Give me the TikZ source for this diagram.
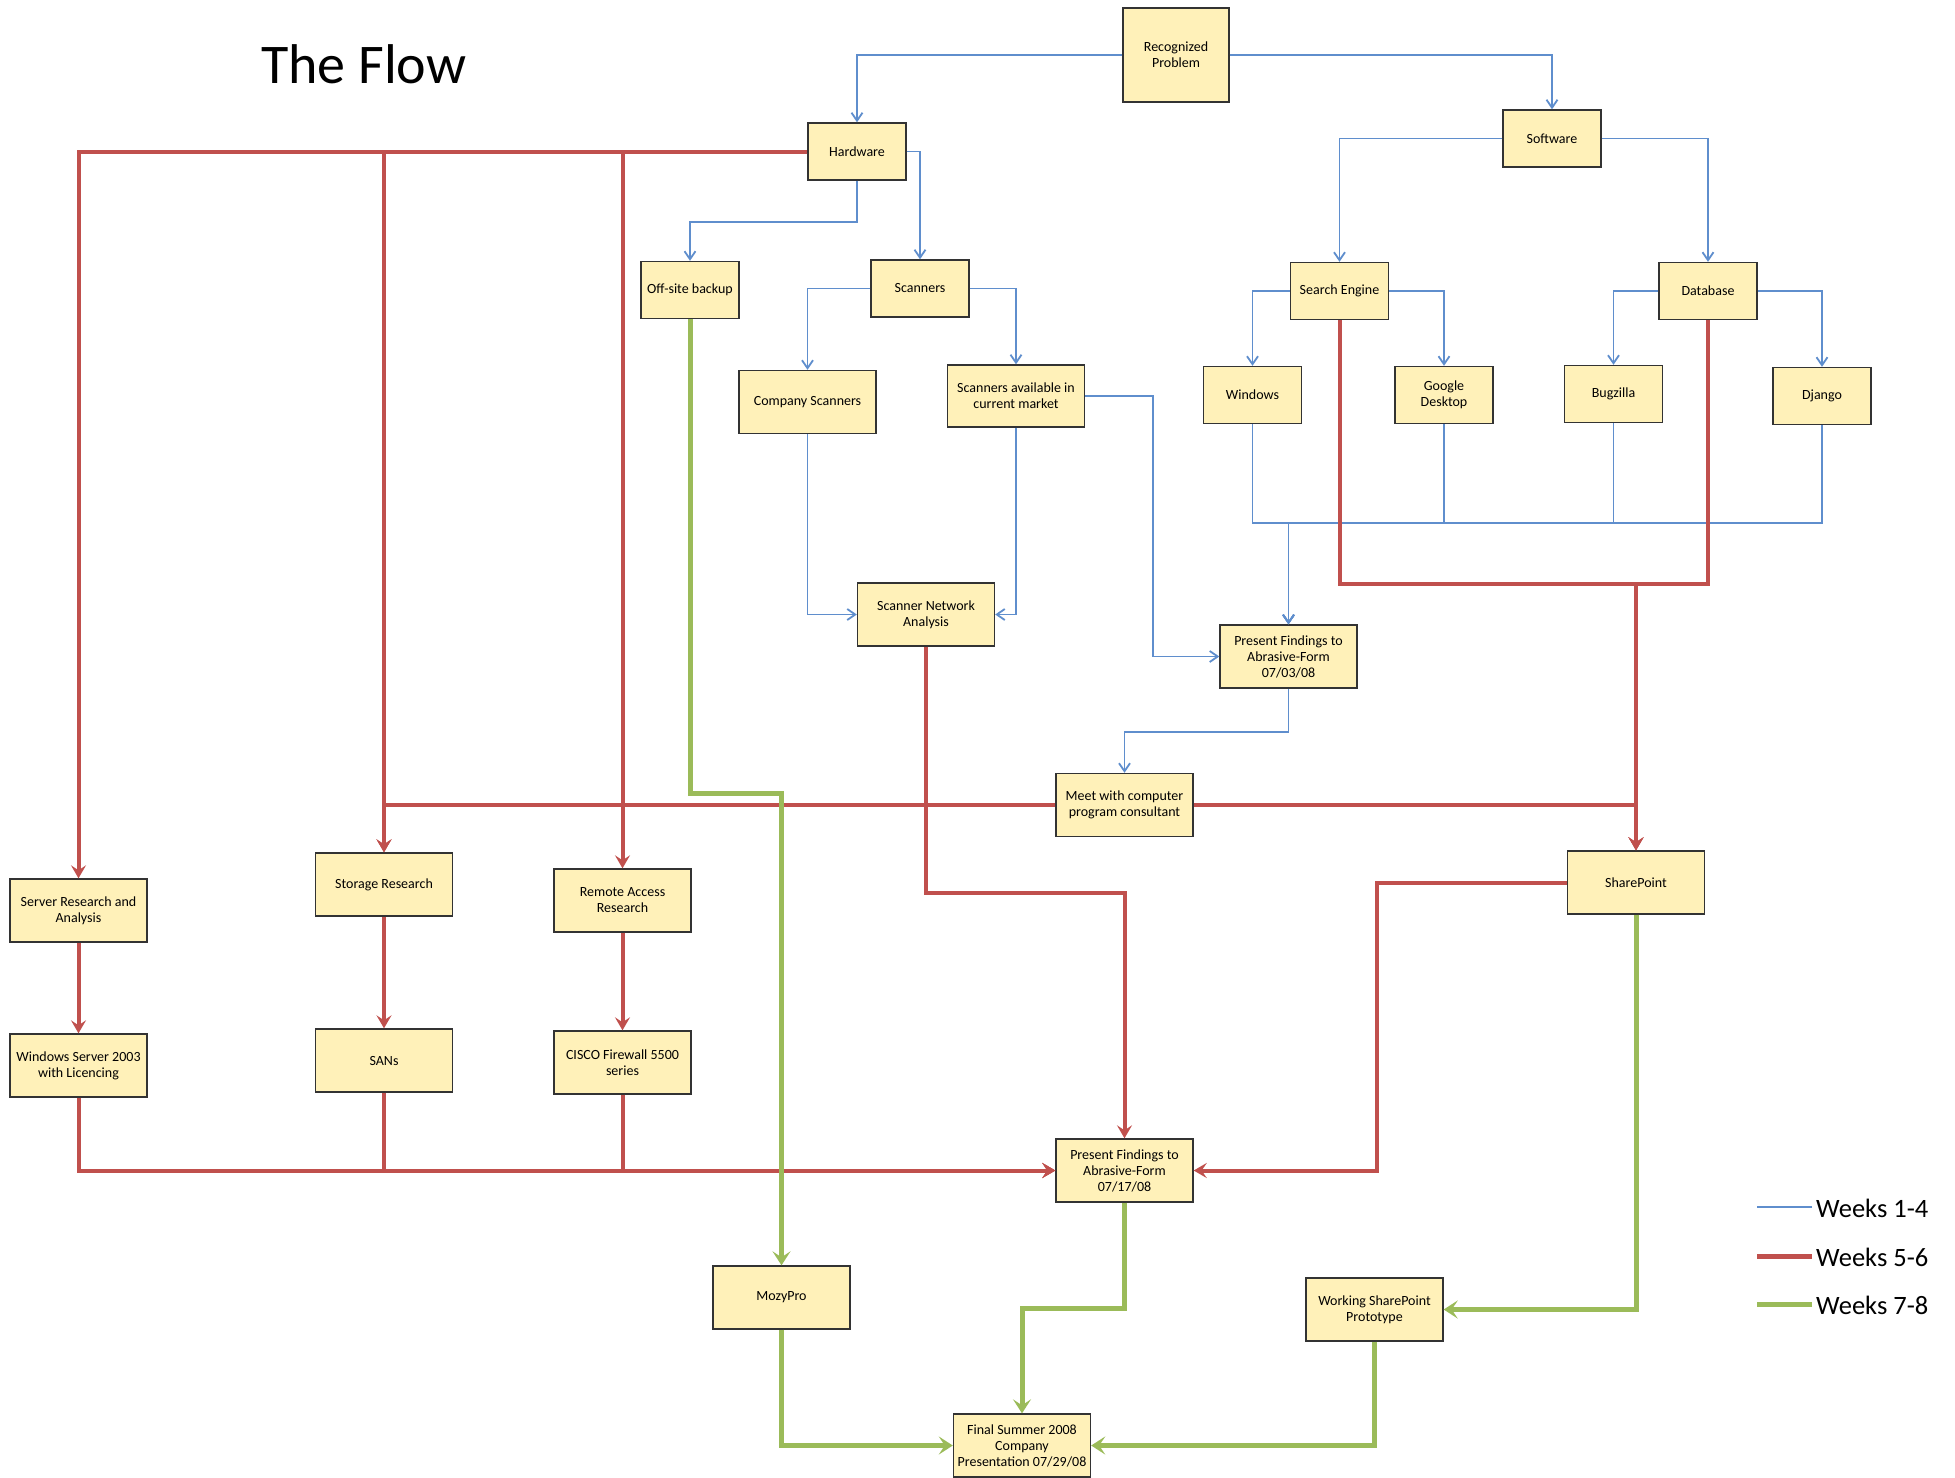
\documentclass[tikz,border=0pt]{standalone}
\usepackage{fontspec}
\setmainfont{Carlito}
\usetikzlibrary{arrows.meta}
\definecolor{boxfill}{RGB}{255,241,185}
\definecolor{wblue}{RGB}{95,142,205}
\definecolor{wred}{RGB}{192,80,77}
\definecolor{wgreen}{RGB}{155,187,89}
\begin{document}
\begin{tikzpicture}[x=1pt,y=-1pt,
  box/.style={draw=black!80, line width=1.4pt, fill=boxfill, align=center, inner sep=0pt, font=\fontsize{14}{16}\selectfont},
  big/.style={box, minimum width=137pt, minimum height=63pt},
  small/.style={box, minimum width=98pt, minimum height=57pt},
  bl/.style={wblue, line width=1.8pt, -{Straight Barb[length=8pt,width=11pt]}},
  rd/.style={wred, line width=4pt, -{Stealth[length=13pt,width=15pt,inset=5pt]}},
  gr/.style={wgreen, line width=5pt, -{Stealth[length=14pt,width=18pt,inset=6pt]}},
  legtext/.style={anchor=west, inner sep=0pt, font=\fontsize{26.5}{30}\selectfont}
  ]
\useasboundingbox (0,0) rectangle (1955,1478);
\fill[white] (0,0) rectangle (1955,1478);

% title
\node[anchor=base west, inner sep=0pt, font=\fontsize{56}{60}\selectfont] (title) at (261,83) {The Flow};

% nodes
\node[box, minimum width=106pt, minimum height=94pt] (rp) at (1176,55) {Recognized\\Problem};
\node[small] (hw) at (857,151.5) {Hardware};
\node[small] (sw) at (1552,138.5) {Software};
\node[small] (off) at (690,290) {Off-site backup};
\node[small] (sc) at (920,288.5) {Scanners};
\node[small] (se) at (1339.5,291) {Search Engine};
\node[small] (db) at (1708,291) {Database};
\node[big] (cs) at (807.5,402) {Company Scanners};
\node[big, minimum height=62pt] (sam) at (1016,396) {Scanners available in\\current market};
\node[small] (win) at (1252.5,395) {Windows};
\node[small] (gd) at (1444,395) {Google\\Desktop};
\node[small] (bz) at (1613.5,394) {Bugzilla};
\node[small] (dj) at (1822,396) {Django};
\node[big] (sna) at (926,614.5) {Scanner Network\\Analysis};
\node[big] (pf1) at (1288.5,656.5) {Present Findings to\\Abrasive-Form\\07/03/08};
\node[big] (meet) at (1124.5,805) {Meet with computer\\program consultant};
\node[big] (sra) at (78.5,910.5) {Server Research and\\Analysis};
\node[big] (str) at (384,884.5) {Storage Research};
\node[big] (rar) at (622.5,900.5) {Remote Access\\Research};
\node[big] (sp) at (1636,882.5) {SharePoint};
\node[big] (ws) at (78.5,1065.5) {Windows Server 2003\\with Licencing};
\node[big] (sans) at (384,1060.5) {SANs};
\node[big] (cisco) at (622.5,1062.5) {CISCO Firewall 5500\\series};
\node[big] (pf2) at (1124.5,1170.5) {Present Findings to\\Abrasive-Form\\07/17/08};
\node[big] (mozy) at (781.5,1297.5) {MozyPro};
\node[big] (wsp) at (1374.5,1309.5) {Working SharePoint\\Prototype};
\node[big] (fin) at (1022,1445.5) {Final Summer 2008\\Company\\Presentation 07/29/08};

% blue connectors (weeks 1-4)
\draw[bl] (rp.west) -| (hw.north);
\draw[bl] (rp.east) -| (sw.north);
\draw[bl] (hw.south) -- ++(0,41) -| (off.north);
\draw[bl] (hw.east) -| (sc.north);
\draw[bl] (sc.west) -| (cs.north);
\draw[bl] (sc.east) -| (sam.north);
\draw[bl] (cs.south) |- (sna.west);
\draw[bl] (sam.south) |- (sna.east);
\draw[bl] (sam.east) -- ++(68,0) |- (pf1.west);
\draw[bl] (sw.west) -| (se.north);
\draw[bl] (sw.east) -| (db.north);
\draw[bl] (se.west) -| (win.north);
\draw[bl] (se.east) -| (gd.north);
\draw[bl] (db.west) -| (bz.north);
\draw[bl] (db.east) -| (dj.north);
\coordinate (bj) at (1288.5,523);
\draw[bl] (win.south) |- (bj) -- (pf1.north);
\draw[bl] (gd.south) |- (bj) -- (pf1.north);
\draw[bl] (bz.south) |- (bj) -- (pf1.north);
\draw[bl] (dj.south) |- (bj) -- (pf1.north);
\draw[bl] (pf1.south) -- ++(0,43) -| (meet.north);

% red connectors (weeks 5-6)
\draw[rd] (hw.west) -| (sra.north);
\draw[rd] (hw.west) -| (str.north);
\draw[rd] (hw.west) -| (rar.north);
\draw[rd] (sra.south) -- (ws.north);
\draw[rd] (str.south) -- (sans.north);
\draw[rd] (rar.south) -- (cisco.north);
\draw[rd] (ws.south) |- (pf2.west);
\draw[rd] (sans.south) |- (pf2.west);
\draw[rd] (cisco.south) |- (pf2.west);
\coordinate (rj) at (1636,584);
\draw[rd] (se.south) |- (rj) -- (sp.north);
\draw[rd] (db.south) |- (rj) -- (sp.north);
\draw[rd] (meet.west) -| (str.north);
\draw[rd] (meet.east) -| (sp.north);
\draw[rd] (sna.south) -- ++(0,246) -| (pf2.north);
\draw[rd] (sp.west) -- ++(-190,0) |- (pf2.east);

% green connectors (weeks 7-8)
\draw[gr] (off.south) -- ++(0,474) -| (mozy.north);
\draw[gr] (pf2.south) -- ++(0,106) -| (fin.north);
\draw[gr] (sp.south) |- (wsp.east);
\draw[gr] (mozy.south) |- (fin.west);
\draw[gr] (wsp.south) |- (fin.east);

% legend
\node[legtext] (l1) at (1816,1208) {Weeks 1-4};
\node[legtext] (l2) at (1816,1257) {Weeks 5-6};
\node[legtext] (l3) at (1816,1305) {Weeks 7-8};
\draw[wblue, line width=2pt] (l1.west) ++(-4,-1) -- ++(-55,0);
\draw[wred, line width=5pt] (l2.west) ++(-4,-1) -- ++(-55,0);
\draw[wgreen, line width=5pt] (l3.west) ++(-4,-1) -- ++(-55,0);
\end{tikzpicture}
\end{document}
